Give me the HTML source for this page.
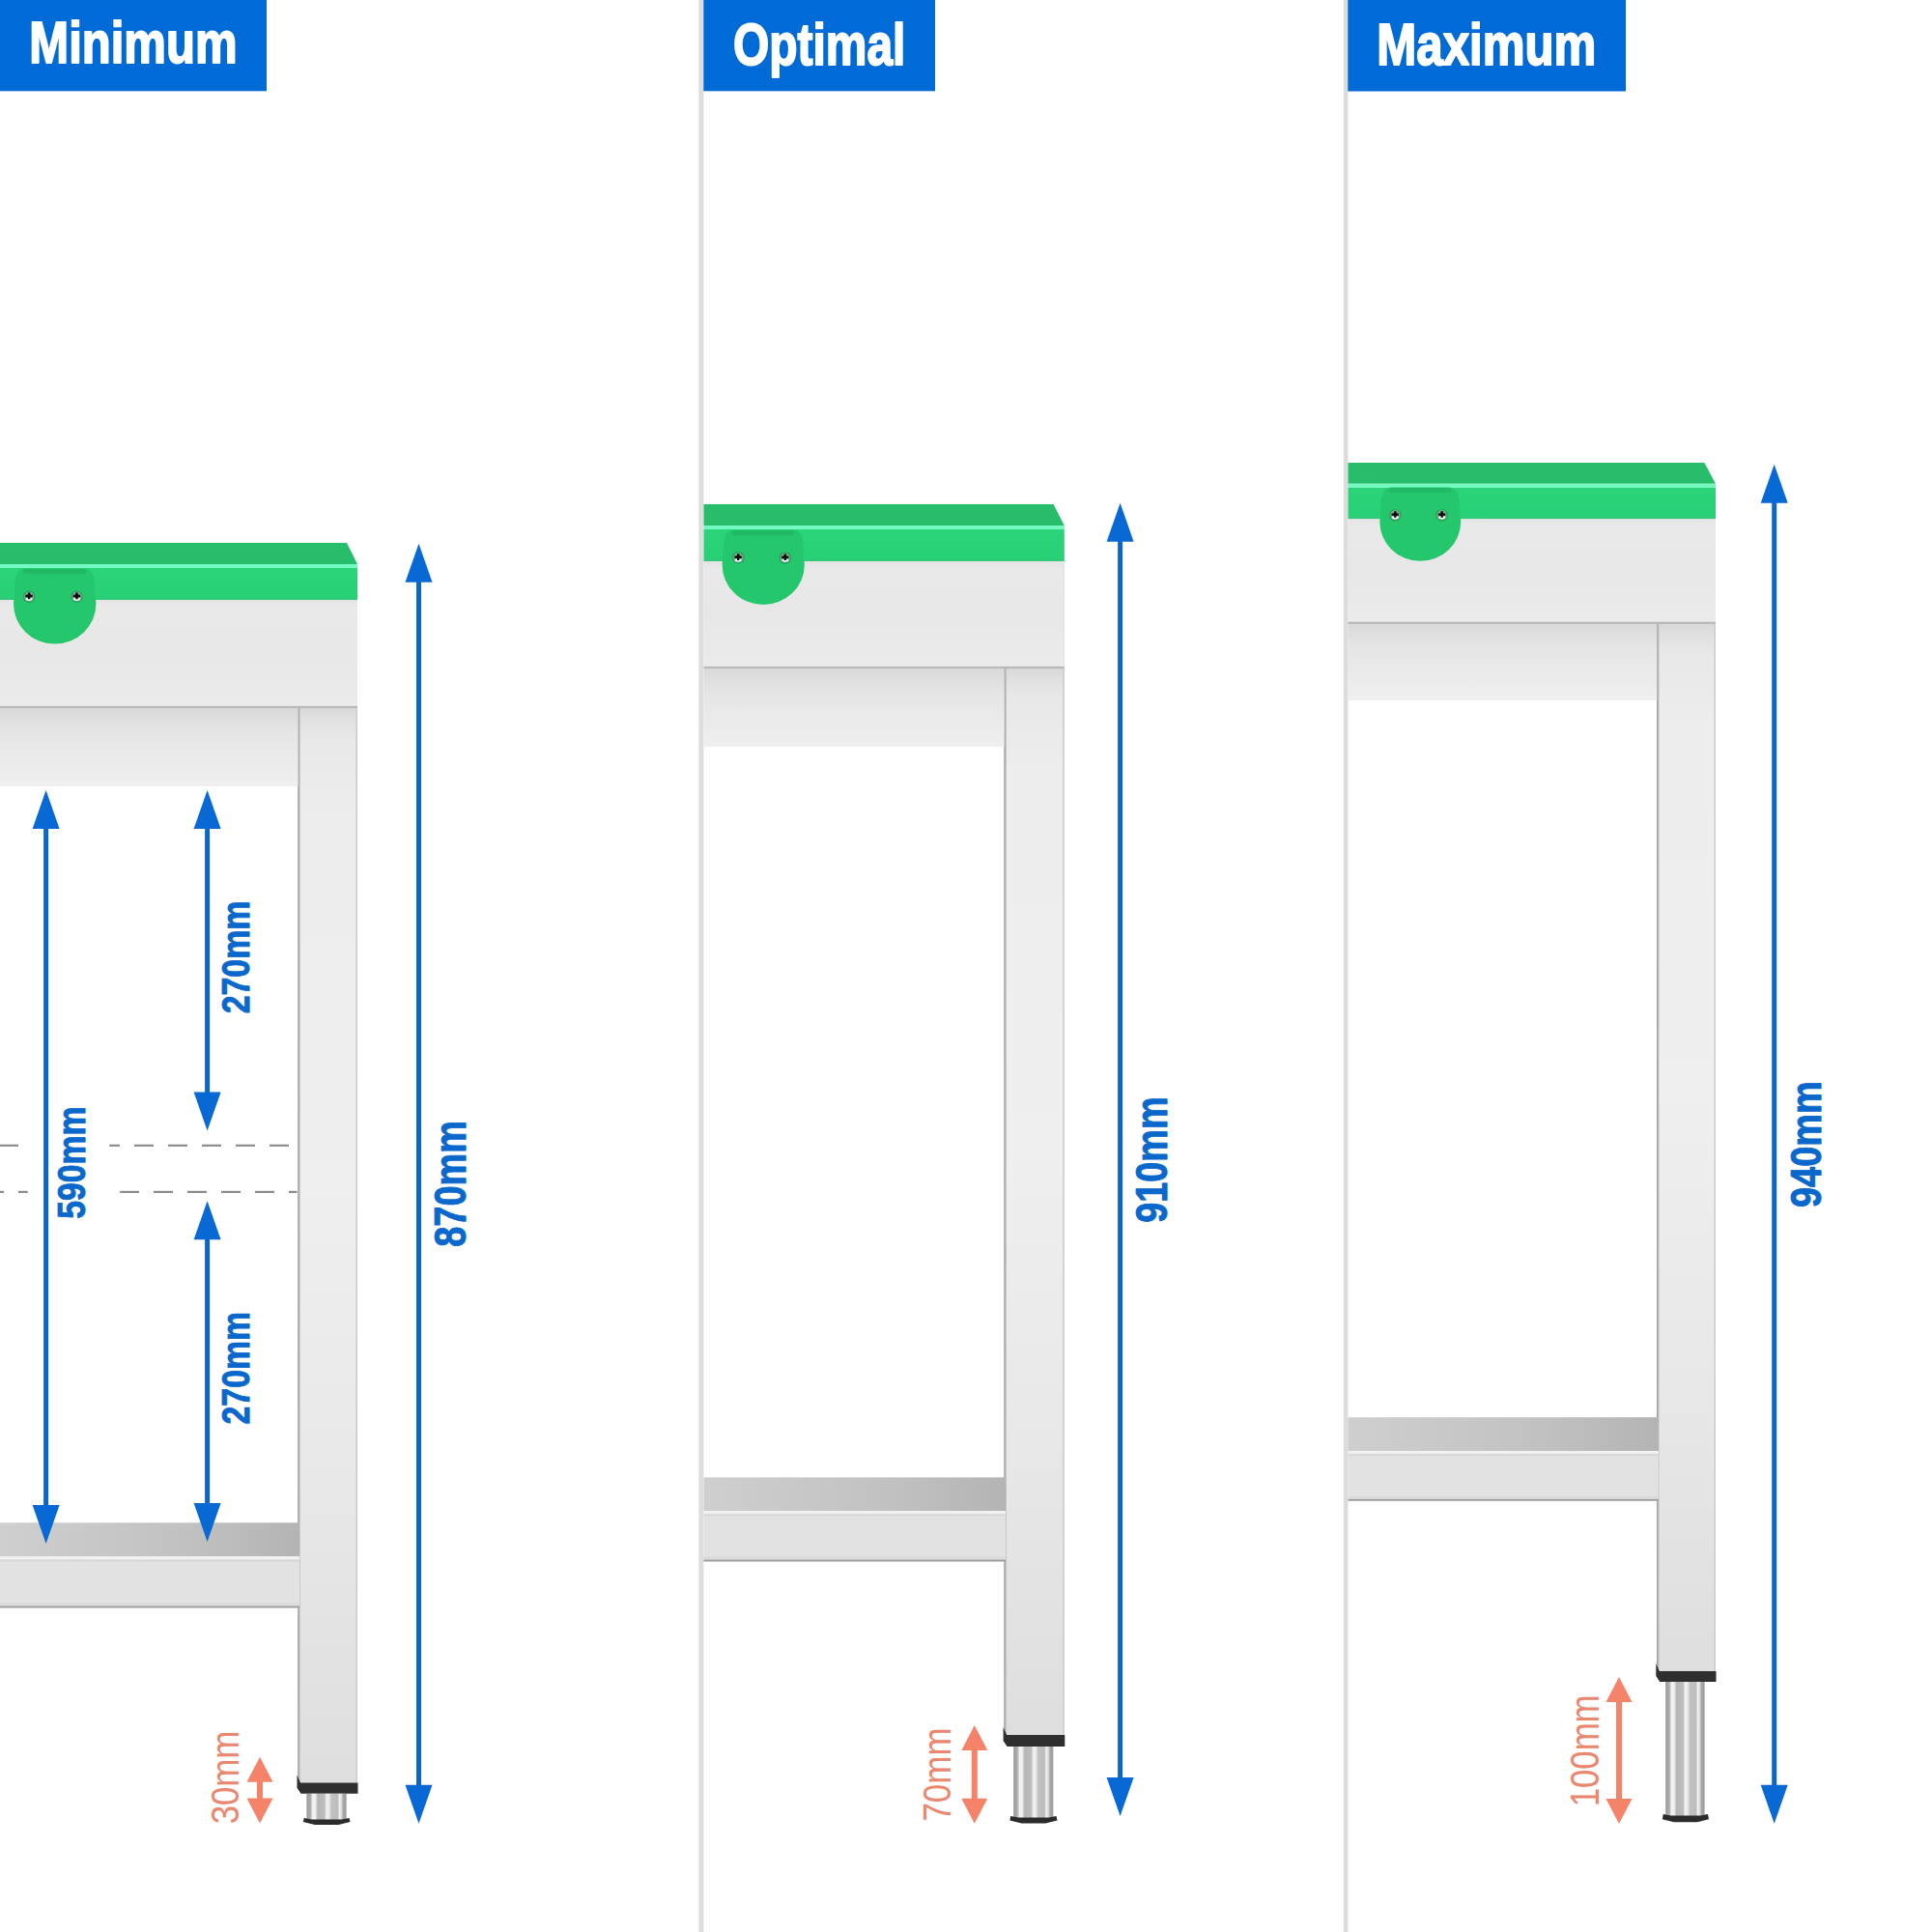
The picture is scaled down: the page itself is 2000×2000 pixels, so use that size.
<!DOCTYPE html><html><head><meta charset="utf-8"><style>html,body{margin:0;padding:0;background:#fff;}body{width:2000px;height:2000px;overflow:hidden;}svg{display:block;}</style></head><body>
<svg width="2000" height="2000" viewBox="0 0 2000 2000">
<defs><clipPath id="c1"><rect x="0" y="0" width="724" height="2000"/></clipPath><clipPath id="c2"><rect x="728.5" y="0" width="662" height="2000"/></clipPath><clipPath id="c3"><rect x="1395.5" y="0" width="604.5" height="2000"/></clipPath><linearGradient id="legg" x1="0" y1="0" x2="0" y2="1"><stop offset="0" stop-color="#e6e6e6"/><stop offset="0.1" stop-color="#ededed"/><stop offset="0.45" stop-color="#efefef"/><stop offset="0.75" stop-color="#e7e7e7"/><stop offset="1" stop-color="#dedede"/></linearGradient><linearGradient id="legtop" x1="0" y1="0" x2="0" y2="1"><stop offset="0" stop-color="#d6d6d6" stop-opacity="0.9"/><stop offset="1" stop-color="#e8e8e8" stop-opacity="0"/></linearGradient><linearGradient id="legedge" x1="0" y1="0" x2="1" y2="0"><stop offset="0" stop-color="#9c9c9c"/><stop offset="1" stop-color="#c8c8c8"/></linearGradient><linearGradient id="railg" x1="0" y1="0" x2="0" y2="1"><stop offset="0" stop-color="#d9d9d9"/><stop offset="0.35" stop-color="#e6e6e6"/><stop offset="1" stop-color="#efefef"/></linearGradient><linearGradient id="aprong" x1="0" y1="0" x2="0" y2="1"><stop offset="0" stop-color="#e4e4e4"/><stop offset="0.06" stop-color="#e9e9e9"/><stop offset="0.5" stop-color="#e7e7e7"/><stop offset="1" stop-color="#ebebeb"/></linearGradient><linearGradient id="shelfg" x1="0" y1="0" x2="1" y2="0"><stop offset="0" stop-color="#cfcfcf"/><stop offset="0.6" stop-color="#c2c2c2"/><stop offset="1" stop-color="#b4b4b4"/></linearGradient><linearGradient id="frontg" x1="0" y1="0" x2="0" y2="1"><stop offset="0" stop-color="#2cd479"/><stop offset="0.9" stop-color="#29d176"/><stop offset="1" stop-color="#35c57c"/></linearGradient><linearGradient id="cylg" x1="0" y1="0" x2="1" y2="0"><stop offset="0" stop-color="#9a9a9a"/><stop offset="0.1" stop-color="#b0b0b0"/><stop offset="0.15" stop-color="#f2f2f2"/><stop offset="0.22" stop-color="#f0f0f0"/><stop offset="0.28" stop-color="#b6b6b6"/><stop offset="0.45" stop-color="#bdbdbd"/><stop offset="0.5" stop-color="#f2f2f2"/><stop offset="0.57" stop-color="#e8e8e8"/><stop offset="0.62" stop-color="#c2c2c2"/><stop offset="0.78" stop-color="#bcbcbc"/><stop offset="0.82" stop-color="#f0f0f0"/><stop offset="0.87" stop-color="#e0e0e0"/><stop offset="0.92" stop-color="#a8a8a8"/><stop offset="1" stop-color="#9a9a9a"/></linearGradient></defs>
<rect x="723.4" y="0" width="5" height="2000" fill="#dcdcdc"/>
<rect x="1390.8" y="0" width="4.7" height="2000" fill="#dcdcdc"/>
<g clip-path="url(#c1)">
<rect x="308.50" y="732.00" width="61.50" height="1113.50" fill="url(#legg)"/>
<rect x="308.50" y="732.00" width="61.50" height="40.00" fill="url(#legtop)"/>
<rect x="308.20" y="732.00" width="2.6" height="1113.50" fill="url(#legedge)"/>
<rect x="368.40" y="621.00" width="1.6" height="1224.50" fill="#cdcdcd"/>
<rect x="-5.00" y="732.00" width="313.50" height="82.00" fill="url(#railg)"/>
<rect x="-5.00" y="621.00" width="375.00" height="111.00" fill="url(#aprong)"/>
<rect x="-5.00" y="730.90" width="375.00" height="2.2" fill="#b9b9b9"/>
<rect x="-5.00" y="1576.30" width="314.50" height="35.10" fill="url(#shelfg)"/>
<rect x="-5.00" y="1611.40" width="315.00" height="52.10" fill="#e2e2e2"/>
<rect x="-5.00" y="1611.40" width="315.00" height="2.5" fill="#f3f3f3"/>
<rect x="-5.00" y="1614.90" width="315.00" height="1.5" fill="#d6d6d6"/>
<rect x="-5.00" y="1659.50" width="315.00" height="2" fill="#dadada"/>
<rect x="-5.00" y="1662.50" width="315.00" height="2" fill="#9e9e9e"/>
<polygon points="-5.00,562.00 359.00,562.00 370.00,584.00 -5.00,584.00" fill="#28bd6a"/>
<rect x="-5.00" y="584.00" width="375.00" height="4" fill="#74fac0"/>
<rect x="-5.00" y="588.00" width="375.00" height="33.00" fill="url(#frontg)"/>
<path d="M 14.00 625.10 L 15.80 599.40 Q 17.50 588.40 27.00 588.40 L 86.40 588.40 Q 95.90 588.40 97.60 599.40 L 99.40 625.10 A 42.70 41.50 0 0 1 14.00 625.10 Z" fill="#25c76c"/>
<rect x="24.00" y="588.90" width="65.40" height="5" rx="2.5" fill="#1aa95a" opacity="0.45"/>
<circle cx="30.10" cy="617.60" r="6.3" fill="#2f5a45" opacity="0.35"/>
<circle cx="30.10" cy="617.60" r="5.1" fill="#98ae9f" opacity="0.75"/>
<ellipse cx="30.10" cy="620.20" rx="3.6" ry="1.7" fill="#f0f6f2"/>
<path d="M 28.90 613.60 h 2.4 v 2.2 h 2.4 v 2.4 h -2.4 v 2.0 h -2.4 v -2.0 h -2.6 v -2.4 h 2.6 z" fill="#0e0e10"/>
<circle cx="30.10" cy="616.80" r="2.0" fill="#0e0e10"/>
<circle cx="79.50" cy="617.60" r="6.3" fill="#2f5a45" opacity="0.35"/>
<circle cx="79.50" cy="617.60" r="5.1" fill="#98ae9f" opacity="0.75"/>
<ellipse cx="79.50" cy="620.20" rx="3.6" ry="1.7" fill="#f0f6f2"/>
<path d="M 78.30 613.60 h 2.4 v 2.2 h 2.4 v 2.4 h -2.4 v 2.0 h -2.4 v -2.0 h -2.6 v -2.4 h 2.6 z" fill="#0e0e10"/>
<circle cx="79.50" cy="616.80" r="2.0" fill="#0e0e10"/>
<polygon points="307.50,1837.50 311.00,1845.50 370.50,1845.50 370.50,1856.80 311.50,1856.80 307.50,1850.80" fill="#2f2f2f"/>
<rect x="317.40" y="1856.80" width="41.20" height="27.70" fill="url(#cylg)"/>
<polygon points="314.80,1881.90 322.57,1883.40 353.73,1883.40 361.50,1881.90 362.50,1886.10 350.32,1889.10 325.98,1889.10 313.80,1886.10" fill="#2b2b2b"/>
</g>
<g clip-path="url(#c2)">
<rect x="1039.60" y="691.00" width="62.20" height="1105.00" fill="url(#legg)"/>
<rect x="1039.60" y="691.00" width="62.20" height="40.00" fill="url(#legtop)"/>
<rect x="1039.30" y="691.00" width="2.6" height="1105.00" fill="url(#legedge)"/>
<rect x="1100.20" y="581.00" width="1.6" height="1215.00" fill="#cdcdcd"/>
<rect x="724.00" y="691.00" width="315.60" height="82.00" fill="url(#railg)"/>
<rect x="724.00" y="581.00" width="377.80" height="110.00" fill="url(#aprong)"/>
<rect x="724.00" y="689.90" width="377.80" height="2.2" fill="#b9b9b9"/>
<rect x="724.00" y="1529.40" width="316.60" height="34.80" fill="url(#shelfg)"/>
<rect x="724.00" y="1564.20" width="317.10" height="51.30" fill="#e2e2e2"/>
<rect x="724.00" y="1564.20" width="317.10" height="2.5" fill="#f3f3f3"/>
<rect x="724.00" y="1567.70" width="317.10" height="1.5" fill="#d6d6d6"/>
<rect x="724.00" y="1611.50" width="317.10" height="2" fill="#dadada"/>
<rect x="724.00" y="1614.50" width="317.10" height="2" fill="#9e9e9e"/>
<polygon points="724.00,522.00 1090.60,522.00 1101.80,544.00 724.00,544.00" fill="#28bd6a"/>
<rect x="724.00" y="544.00" width="377.80" height="4" fill="#74fac0"/>
<rect x="724.00" y="548.00" width="377.80" height="33.00" fill="url(#frontg)"/>
<path d="M 747.60 584.60 L 749.40 559.50 Q 751.10 548.50 760.60 548.50 L 819.80 548.50 Q 829.30 548.50 831.00 559.50 L 832.80 584.60 A 42.60 41.40 0 0 1 747.60 584.60 Z" fill="#25c76c"/>
<rect x="757.60" y="549.00" width="65.20" height="5" rx="2.5" fill="#1aa95a" opacity="0.45"/>
<circle cx="764.20" cy="577.30" r="6.3" fill="#2f5a45" opacity="0.35"/>
<circle cx="764.20" cy="577.30" r="5.1" fill="#98ae9f" opacity="0.75"/>
<ellipse cx="764.20" cy="579.90" rx="3.6" ry="1.7" fill="#f0f6f2"/>
<path d="M 763.00 573.30 h 2.4 v 2.2 h 2.4 v 2.4 h -2.4 v 2.0 h -2.4 v -2.0 h -2.6 v -2.4 h 2.6 z" fill="#0e0e10"/>
<circle cx="764.20" cy="576.50" r="2.0" fill="#0e0e10"/>
<circle cx="812.80" cy="577.50" r="6.3" fill="#2f5a45" opacity="0.35"/>
<circle cx="812.80" cy="577.50" r="5.1" fill="#98ae9f" opacity="0.75"/>
<ellipse cx="812.80" cy="580.10" rx="3.6" ry="1.7" fill="#f0f6f2"/>
<path d="M 811.60 573.50 h 2.4 v 2.2 h 2.4 v 2.4 h -2.4 v 2.0 h -2.4 v -2.0 h -2.6 v -2.4 h 2.6 z" fill="#0e0e10"/>
<circle cx="812.80" cy="576.70" r="2.0" fill="#0e0e10"/>
<polygon points="1038.60,1788.00 1042.10,1796.00 1102.30,1796.00 1102.30,1808.00 1042.60,1808.00 1038.60,1802.00" fill="#2f2f2f"/>
<rect x="1049.20" y="1808.00" width="41.10" height="74.70" fill="url(#cylg)"/>
<polygon points="1046.30,1880.00 1054.16,1881.50 1085.64,1881.50 1093.50,1880.00 1094.50,1884.40 1082.20,1887.40 1057.60,1887.40 1045.30,1884.40" fill="#2b2b2b"/>
</g>
<g clip-path="url(#c3)">
<rect x="1715.30" y="644.80" width="60.70" height="1085.20" fill="url(#legg)"/>
<rect x="1715.30" y="644.80" width="60.70" height="40.00" fill="url(#legtop)"/>
<rect x="1715.00" y="644.80" width="2.6" height="1085.20" fill="url(#legedge)"/>
<rect x="1774.40" y="537.10" width="1.6" height="1192.90" fill="#cdcdcd"/>
<rect x="1391.00" y="644.80" width="324.30" height="80.20" fill="url(#railg)"/>
<rect x="1391.00" y="537.10" width="385.00" height="107.70" fill="url(#aprong)"/>
<rect x="1391.00" y="643.70" width="385.00" height="2.2" fill="#b9b9b9"/>
<rect x="1391.00" y="1467.20" width="325.30" height="34.90" fill="url(#shelfg)"/>
<rect x="1391.00" y="1502.10" width="325.80" height="50.70" fill="#e2e2e2"/>
<rect x="1391.00" y="1502.10" width="325.80" height="2.5" fill="#f3f3f3"/>
<rect x="1391.00" y="1505.60" width="325.80" height="1.5" fill="#d6d6d6"/>
<rect x="1391.00" y="1548.80" width="325.80" height="2" fill="#dadada"/>
<rect x="1391.00" y="1551.80" width="325.80" height="2" fill="#9e9e9e"/>
<polygon points="1391.00,478.90 1764.40,478.90 1776.00,500.80 1391.00,500.80" fill="#28bd6a"/>
<rect x="1391.00" y="500.80" width="385.00" height="4" fill="#74fac0"/>
<rect x="1391.00" y="504.80" width="385.00" height="32.30" fill="url(#frontg)"/>
<path d="M 1428.30 540.13 L 1430.10 515.50 Q 1431.80 504.50 1441.30 504.50 L 1499.20 504.50 Q 1508.70 504.50 1510.40 515.50 L 1512.20 540.13 A 41.95 40.77 0 0 1 1428.30 540.13 Z" fill="#25c76c"/>
<rect x="1438.30" y="505.00" width="63.90" height="5" rx="2.5" fill="#1aa95a" opacity="0.45"/>
<circle cx="1444.30" cy="533.20" r="6.3" fill="#2f5a45" opacity="0.35"/>
<circle cx="1444.30" cy="533.20" r="5.1" fill="#98ae9f" opacity="0.75"/>
<ellipse cx="1444.30" cy="535.80" rx="3.6" ry="1.7" fill="#f0f6f2"/>
<path d="M 1443.10 529.20 h 2.4 v 2.2 h 2.4 v 2.4 h -2.4 v 2.0 h -2.4 v -2.0 h -2.6 v -2.4 h 2.6 z" fill="#0e0e10"/>
<circle cx="1444.30" cy="532.40" r="2.0" fill="#0e0e10"/>
<circle cx="1492.70" cy="533.20" r="6.3" fill="#2f5a45" opacity="0.35"/>
<circle cx="1492.70" cy="533.20" r="5.1" fill="#98ae9f" opacity="0.75"/>
<ellipse cx="1492.70" cy="535.80" rx="3.6" ry="1.7" fill="#f0f6f2"/>
<path d="M 1491.50 529.20 h 2.4 v 2.2 h 2.4 v 2.4 h -2.4 v 2.0 h -2.4 v -2.0 h -2.6 v -2.4 h 2.6 z" fill="#0e0e10"/>
<circle cx="1492.70" cy="532.40" r="2.0" fill="#0e0e10"/>
<polygon points="1714.30,1722.00 1717.80,1730.00 1776.50,1730.00 1776.50,1741.00 1718.30,1741.00 1714.30,1735.00" fill="#2f2f2f"/>
<rect x="1724.20" y="1741.00" width="40.40" height="139.60" fill="url(#cylg)"/>
<polygon points="1721.80,1878.00 1729.48,1879.50 1760.32,1879.50 1768.00,1878.00 1769.00,1883.30 1756.95,1886.30 1732.85,1886.30 1720.80,1883.30" fill="#2b2b2b"/>
</g>
<rect x="0.00" y="1184.70" width="19.00" height="2.2" fill="#8c8c8c"/>
<rect x="113.20" y="1184.70" width="10.80" height="2.2" fill="#8c8c8c"/>
<rect x="139.00" y="1184.70" width="20.00" height="2.2" fill="#8c8c8c"/>
<rect x="174.00" y="1184.70" width="20.00" height="2.2" fill="#8c8c8c"/>
<rect x="209.00" y="1184.70" width="20.00" height="2.2" fill="#8c8c8c"/>
<rect x="244.00" y="1184.70" width="20.00" height="2.2" fill="#8c8c8c"/>
<rect x="279.00" y="1184.70" width="20.00" height="2.2" fill="#8c8c8c"/>
<rect x="0.00" y="1232.80" width="4.00" height="2.2" fill="#8c8c8c"/>
<rect x="19.00" y="1232.80" width="9.70" height="2.2" fill="#8c8c8c"/>
<rect x="124.20" y="1232.80" width="19.80" height="2.2" fill="#8c8c8c"/>
<rect x="159.00" y="1232.80" width="20.00" height="2.2" fill="#8c8c8c"/>
<rect x="194.00" y="1232.80" width="20.00" height="2.2" fill="#8c8c8c"/>
<rect x="229.00" y="1232.80" width="20.00" height="2.2" fill="#8c8c8c"/>
<rect x="264.00" y="1232.80" width="20.00" height="2.2" fill="#8c8c8c"/>
<rect x="299.00" y="1232.80" width="8.50" height="2.2" fill="#8c8c8c"/>
<rect x="0" y="0" width="276" height="94.3" fill="#006ad6"/>
<rect x="728.3" y="0" width="239.7" height="94.3" fill="#006ad6"/>
<rect x="1395.3" y="0" width="287.7" height="94.5" fill="#006ad6"/>
<text font-family="'Liberation Sans', sans-serif" font-weight="bold" font-size="61.34" fill="#ffffff" stroke="#ffffff" stroke-width="2.00" stroke-linejoin="round" transform="translate(30.32 65.20) scale(0.7995 1)">Minimum</text>
<text font-family="'Liberation Sans', sans-serif" font-weight="bold" font-size="61.77" fill="#ffffff" stroke="#ffffff" stroke-width="2.00" stroke-linejoin="round" transform="translate(759.03 67.00) scale(0.7756 1)">Optimal</text>
<text font-family="'Liberation Sans', sans-serif" font-weight="bold" font-size="60.90" fill="#ffffff" stroke="#ffffff" stroke-width="2.00" stroke-linejoin="round" transform="translate(1425.31 67.30) scale(0.8086 1)">Maximum</text>
<rect x="431.00" y="601.80" width="5.00" height="1246.90" fill="#0b66c6"/>
<polygon points="433.50,562.80 419.50,602.80 447.50,602.80" fill="#0868d4"/>
<polygon points="433.50,1887.70 419.50,1847.70 447.50,1847.70" fill="#0868d4"/>
<rect x="45.10" y="857.00" width="5.00" height="702.00" fill="#0b66c6"/>
<polygon points="47.60,818.00 33.60,858.00 61.60,858.00" fill="#0868d4"/>
<polygon points="47.60,1598.00 33.60,1558.00 61.60,1558.00" fill="#0868d4"/>
<rect x="212.10" y="857.00" width="5.00" height="274.40" fill="#0b66c6"/>
<polygon points="214.60,818.00 200.60,858.00 228.60,858.00" fill="#0868d4"/>
<polygon points="214.60,1170.40 200.60,1130.40 228.60,1130.40" fill="#0868d4"/>
<rect x="212.10" y="1282.30" width="5.00" height="274.70" fill="#0b66c6"/>
<polygon points="214.60,1243.30 200.60,1283.30 228.60,1283.30" fill="#0868d4"/>
<polygon points="214.60,1596.00 200.60,1556.00 228.60,1556.00" fill="#0868d4"/>
<rect x="1157.10" y="559.80" width="5.00" height="1281.10" fill="#0b66c6"/>
<polygon points="1159.60,520.80 1145.60,560.80 1173.60,560.80" fill="#0868d4"/>
<polygon points="1159.60,1879.90 1145.60,1839.90 1173.60,1839.90" fill="#0868d4"/>
<rect x="1834.20" y="519.70" width="5.00" height="1329.00" fill="#0b66c6"/>
<polygon points="1836.70,480.70 1822.70,520.70 1850.70,520.70" fill="#0868d4"/>
<polygon points="1836.70,1887.70 1822.70,1847.70 1850.70,1847.70" fill="#0868d4"/>
<text font-family="'Liberation Sans', sans-serif" font-weight="bold" font-size="45.34" fill="#0a68cc" stroke="#0a68cc" stroke-width="0.90" stroke-linejoin="round" transform="translate(482.01 1290.80) rotate(-90) scale(0.8367 1)">870mm</text>
<text font-family="'Liberation Sans', sans-serif" font-weight="bold" font-size="39.97" fill="#0a68cc" stroke="#0a68cc" stroke-width="0.90" stroke-linejoin="round" transform="translate(87.86 1261.84) rotate(-90) scale(0.8436 1)">590mm</text>
<text font-family="'Liberation Sans', sans-serif" font-weight="bold" font-size="40.40" fill="#0a68cc" stroke="#0a68cc" stroke-width="0.90" stroke-linejoin="round" transform="translate(258.06 1049.37) rotate(-90) scale(0.8387 1)">270mm</text>
<text font-family="'Liberation Sans', sans-serif" font-weight="bold" font-size="40.40" fill="#0a68cc" stroke="#0a68cc" stroke-width="0.90" stroke-linejoin="round" transform="translate(258.06 1474.47) rotate(-90) scale(0.8380 1)">270mm</text>
<text font-family="'Liberation Sans', sans-serif" font-weight="bold" font-size="45.48" fill="#0a68cc" stroke="#0a68cc" stroke-width="0.90" stroke-linejoin="round" transform="translate(1208.11 1265.81) rotate(-90) scale(0.8322 1)">910mm</text>
<text font-family="'Liberation Sans', sans-serif" font-weight="bold" font-size="45.20" fill="#0a68cc" stroke="#0a68cc" stroke-width="0.90" stroke-linejoin="round" transform="translate(1885.01 1250.02) rotate(-90) scale(0.8401 1)">940mm</text>
<rect x="266.00" y="1843.80" width="6.00" height="18.70" fill="#f5836a"/>
<polygon points="269.00,1818.80 255.50,1844.80 282.50,1844.80" fill="#f5836a"/>
<polygon points="269.00,1887.50 255.50,1861.50 282.50,1861.50" fill="#f5836a"/>
<rect x="1005.80" y="1811.00" width="6.00" height="51.70" fill="#f5836a"/>
<polygon points="1008.80,1786.00 995.30,1812.00 1022.30,1812.00" fill="#f5836a"/>
<polygon points="1008.80,1887.70 995.30,1861.70 1022.30,1861.70" fill="#f5836a"/>
<rect x="1673.00" y="1761.00" width="6.00" height="101.90" fill="#f5836a"/>
<polygon points="1676.00,1736.00 1662.50,1762.00 1689.50,1762.00" fill="#f5836a"/>
<polygon points="1676.00,1887.90 1662.50,1861.90 1689.50,1861.90" fill="#f5836a"/>
<text font-family="'Liberation Sans', sans-serif" font-weight="normal" font-size="41.10" fill="#e9876f" stroke="none" stroke-width="0.00" stroke-linejoin="round" transform="translate(247.00 1888.32) rotate(-90) scale(0.8461 1)">30mm</text>
<text font-family="'Liberation Sans', sans-serif" font-weight="normal" font-size="40.68" fill="#e9876f" stroke="none" stroke-width="0.00" stroke-linejoin="round" transform="translate(983.90 1885.59) rotate(-90) scale(0.8601 1)">70mm</text>
<text font-family="'Liberation Sans', sans-serif" font-weight="normal" font-size="41.67" fill="#e9876f" stroke="none" stroke-width="0.00" stroke-linejoin="round" transform="translate(1654.69 1870.35) rotate(-90) scale(0.8345 1)">100mm</text>
</svg></body></html>
